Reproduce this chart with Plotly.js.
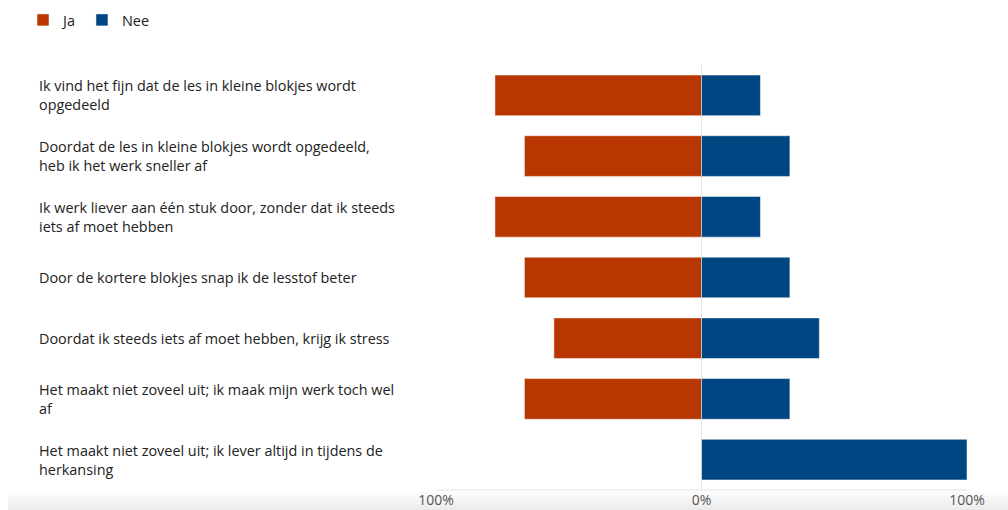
<!DOCTYPE html>
<html>
<head>
<meta charset="utf-8">
<script src="https://cdn.plot.ly/plotly-3.0.1.min.js"></script>
<style>
html,body{margin:0;padding:0;background:#fff;}
#chart{width:1008px;height:510px;}
</style>
</head>
<body>
<div id="chart"></div>
<script>
var categories = [
  "Ik vind het fijn dat de les in kleine blokjes wordt<br>opgedeeld",
  "Doordat de les in kleine blokjes wordt opgedeeld,<br>heb ik het werk sneller af",
  "Ik werk liever aan één stuk door, zonder dat ik steeds<br>iets af moet hebben",
  "Door de kortere blokjes snap ik de lesstof beter",
  "Doordat ik steeds iets af moet hebben, krijg ik stress",
  "Het maakt niet zoveel uit; ik maak mijn werk toch wel<br>af",
  "Het maakt niet zoveel uit; ik lever altijd in tijdens de<br>herkansing"
];
var ja  = [77.8, 66.7, 77.8, 66.7, 55.6, 66.7, 0];
var nee = [22.2, 33.3, 22.2, 33.3, 44.4, 33.3, 100];
var tickVals = [-100, 0, 100];
var tickText = ["100%", "0%", "100%"];

var FONT = "'Open Sans', 'Noto Sans', sans-serif";
var idx = categories.map(function(c, i){ return i; });
var PW = 531, PH = 425, ML = 436;

var traces = [
  {type:'bar', orientation:'h', name:'Ja', y: idx, x: ja.map(function(v){return -v;}),
   marker:{color:'#B83700', line:{color:'#ffffff', width:0.5}}, hoverinfo:'skip'},
  {type:'bar', orientation:'h', name:'Nee', y: idx, x: nee,
   marker:{color:'#004682', line:{color:'#ffffff', width:0.5}}, hoverinfo:'skip'}
];

var annotations = categories.map(function(c, i){
  return {xref:'paper', yref:'y', x:(37-ML)/PW, y:i, text:c, showarrow:false,
          xanchor:'left', yanchor:'middle', align:'left',
          font:{family:FONT, size:14.4, color:'#222222'}};
});

var shapes = [
  {type:'line', xref:'paper', yref:'paper', x0:0, x1:1, y0:0, y1:0,
   line:{color:'#e3e3e3', width:1}}
];
for (var k = 0; k < 5; k++) {
  shapes.push({type:'rect', xref:'paper', yref:'paper', layer:'below',
    x0:(8-ML)/PW, x1:(1008-ML)/PW, y0:-(2+4*k)/PH, y1:-20/PH,
    fillcolor:'#999999', opacity:0.035, line:{width:0}});
}

var layout = {
  width:1008, height:510,
  margin:{l:ML, r:41, t:65, b:20, pad:0, autoexpand:false},
  paper_bgcolor:'#ffffff', plot_bgcolor:'rgba(0,0,0,0)',
  barmode:'relative', bargap:0.33,
  font:{family:FONT, size:14, color:'#444'},
  showlegend:true,
  legend:{orientation:'h', x:(23-ML)/PW, xanchor:'left', y:1+(65-20)/PH, yanchor:'middle',
          font:{family:FONT, size:14.5, color:'#222'}, itemwidth:30, traceorder:'normal'},
  xaxis:{range:[-100,100], tickvals:tickVals, ticktext:tickText, showgrid:true,
         gridcolor:'#e3e3e3', gridwidth:1, zeroline:false, showline:false,
         ticks:'', tickfont:{family:FONT, size:14, color:'#555'}, fixedrange:true},
  yaxis:{range:[6.5,-0.5], showticklabels:false, showgrid:false, zeroline:false,
         showline:false, ticks:'', fixedrange:true},
  shapes: shapes,
  annotations: annotations
};

Plotly.newPlot('chart', traces, layout, {displayModeBar:false, staticPlot:true});
</script>
</body>
</html>
